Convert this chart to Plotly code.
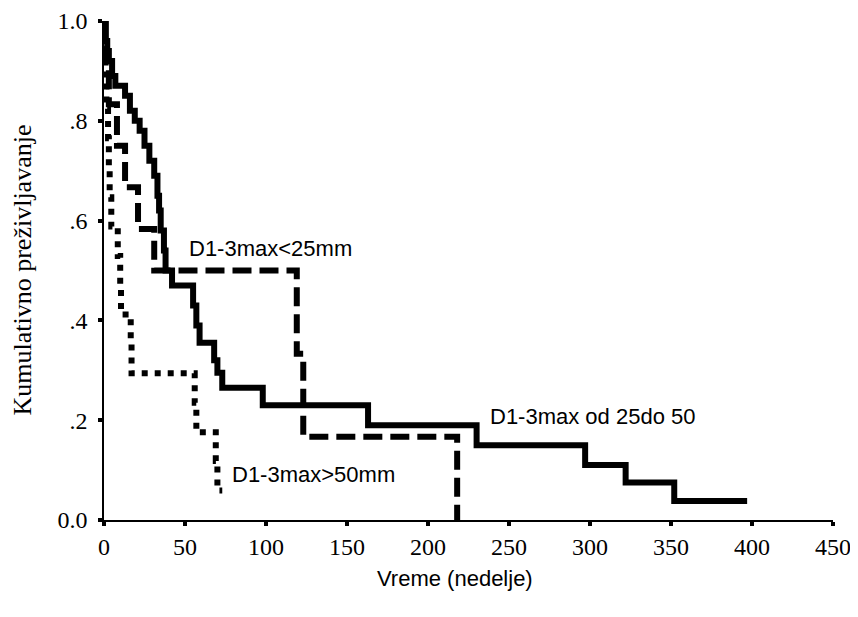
import plotly.graph_objects as go

# Survival data (time in weeks, cumulative survival after each step)
t_mid = [0, 1, 2, 3, 5, 7, 13, 16, 19, 22, 25, 28, 31, 33, 34, 35, 37, 38, 42, 55, 57, 59, 68, 70, 73, 98, 163, 230, 297, 322, 352, 397]
s_mid = [1.0, 0.96, 0.94, 0.92, 0.89, 0.87, 0.85, 0.82, 0.80, 0.78, 0.75, 0.72, 0.69, 0.65, 0.62, 0.58, 0.54, 0.50, 0.47, 0.43, 0.39, 0.355, 0.32, 0.295, 0.265, 0.23, 0.19, 0.15, 0.11, 0.075, 0.038, 0.038]

t_small = [0, 1, 3, 8, 13, 21, 31, 119, 123, 218]
s_small = [1.0, 0.917, 0.833, 0.75, 0.667, 0.583, 0.5, 0.333, 0.167, 0.0]

t_big = [0, 0.5, 1, 1.5, 2.5, 3, 3.5, 4.5, 8.5, 10, 10.5, 16.5, 17, 56, 57, 69, 70, 73]
s_big = [1.0, 0.941, 0.882, 0.824, 0.765, 0.706, 0.647, 0.588, 0.529, 0.471, 0.412, 0.353, 0.294, 0.235, 0.176, 0.118, 0.059, 0.059]

x_ticks = [0, 50, 100, 150, 200, 250, 300, 350, 400, 450]
y_ticks = [0.0, 0.2, 0.4, 0.6, 0.8, 1.0]
y_ticktext = ["0.0", ".2", ".4", ".6", ".8", "1.0"]

labels = ["D1-3max<25mm", "D1-3max od 25do 50", "D1-3max>50mm"]
label_x = [51, 237, 78]
label_y = [0.545, 0.208, 0.092]

fig = go.Figure()
fig.add_trace(go.Scatter(x=t_mid, y=s_mid, mode="lines", line_shape="hv",
                         line=dict(color="black", width=6), showlegend=False))
fig.add_trace(go.Scatter(x=t_small, y=s_small, mode="lines", line_shape="hv",
                         line=dict(color="black", width=6, dash="19px,8px"), showlegend=False))
fig.add_trace(go.Scatter(x=t_big, y=s_big, mode="lines", line_shape="hv",
                         line=dict(color="black", width=6, dash="6px,7px"), showlegend=False))

annotations = []
for txt, ax, ay in zip(labels, label_x, label_y):
    annotations.append(dict(x=ax, y=ay, xref="x", yref="y", text=txt, showarrow=False,
                            xanchor="left", yanchor="middle",
                            font=dict(family="Liberation Sans", size=22, color="black")))
annotations.append(dict(x=0, y=0.5, xref="paper", yref="paper", xshift=-82,
                        text="Kumulativno preživljavanje", textangle=-90, showarrow=False,
                        xanchor="center", yanchor="middle",
                        font=dict(family="Liberation Serif", size=26, color="black")))
annotations.append(dict(x=0.4815, y=0, xref="paper", yref="paper", yshift=-58,
                        text="Vreme (nedelje)", showarrow=False,
                        xanchor="center", yanchor="middle",
                        font=dict(family="Liberation Sans", size=22, color="black")))

# page body has an 8px margin, so the figure is sized/offset to compensate
fig.update_layout(
    width=850, height=609,
    margin=dict(l=96, r=25, t=13, b=97),
    paper_bgcolor="white", plot_bgcolor="white",
    annotations=annotations,
    xaxis=dict(range=[0, 450], tickvals=x_ticks, showgrid=False, zeroline=False,
               showline=True, linecolor="black", linewidth=1.5, automargin=False,
               ticks="outside", ticklen=4, tickwidth=4, tickcolor="black",
               tickfont=dict(family="Liberation Serif", size=24, color="black"),
               ticklabelstandoff=0, ticklabeloverflow="allow"),
    yaxis=dict(range=[0, 1], tickvals=y_ticks, ticktext=y_ticktext, showgrid=False,
               zeroline=False, showline=True, linecolor="black", linewidth=1.5, automargin=False,
               ticks="outside", ticklen=4, tickwidth=4, tickcolor="black",
               tickfont=dict(family="Liberation Serif", size=24, color="black"),
               ticklabelstandoff=6, ticklabeloverflow="allow"),
)

fig.write_html("out.html")
